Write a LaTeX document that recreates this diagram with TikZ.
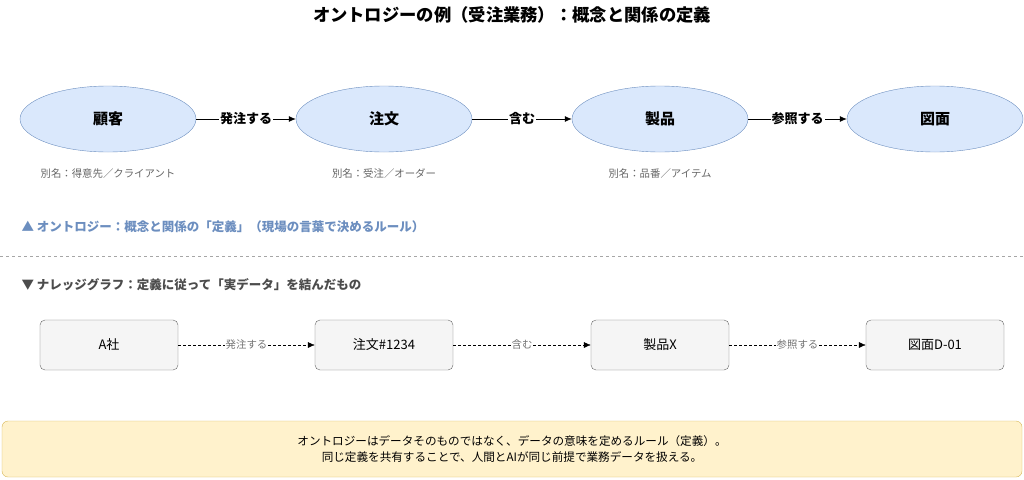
\documentclass[tikz,border=0pt]{standalone}
\usepackage{fontspec}
\setmainfont{Noto Sans CJK JP}
\usetikzlibrary{arrows.meta,shapes.geometric}
\definecolor{ellf}{HTML}{DAE8FC}\definecolor{ells}{HTML}{6C8EBF}
\definecolor{boxf}{HTML}{F5F5F5}\definecolor{boxs}{HTML}{666666}
\definecolor{notef}{HTML}{FFF2CC}\definecolor{notes}{HTML}{D6B656}
\definecolor{headb}{HTML}{6C8EBF}
\begin{document}
\begin{tikzpicture}[x=1pt,y=-1pt,
 concept/.style={ellipse,draw=ells,fill=ellf,minimum width=176pt,minimum height=66pt,inner sep=0pt,font=\fontsize{15}{17}\selectfont\bfseries},
 inst/.style={draw=boxs,fill=boxf,rounded corners=5pt,minimum width=138pt,minimum height=50pt,font=\fontsize{13}{15}\selectfont},
 alias/.style={text=black!60,font=\fontsize{10.4}{12}\selectfont},
 rel/.style={-{Latex[length=7pt,width=6pt]},thick},
 rell/.style={fill=white,inner sep=1pt,font=\fontsize{13}{15}\selectfont\bfseries},
 irel/.style={-{Latex[length=7pt,width=6pt]},densely dashed},
 irell/.style={fill=white,inner sep=1pt,text=black!55,font=\fontsize{10.4}{12}\selectfont},
 head/.style={anchor=west,font=\fontsize{12.5}{14}\selectfont\bfseries}]
\useasboundingbox (0,0) rectangle (1024,479);
\node[font=\fontsize{17.3}{20}\selectfont\bfseries] (title) at (512,15) {オントロジーの例（受注業務）：概念と関係の定義};
\node[concept] (c1) at (108,119) {顧客};
\node[concept] (c2) at (384,119) {注文};
\node[concept] (c3) at (660,119) {製品};
\node[concept] (c4) at (935,119) {図面};
\draw[rel] (c1) -- node[rell]{発注する} (c2);
\draw[rel] (c2) -- node[rell]{含む} (c3);
\draw[rel] (c3) -- node[rell]{参照する} (c4);
\node[alias] (a1) at (108,174) {別名：得意先／クライアント};
\node[alias] (a2) at (384,174) {別名：受注／オーダー};
\node[alias] (a3) at (660,174) {別名：品番／アイテム};
\node[head,text=headb] (h1) at (18,227) {▲ オントロジー：概念と関係の「定義」（現場の言葉で決めるルール）};
\coordinate (d1) at (0,256); \coordinate (d2) at (1024,256);
\draw[black!35,dashed] (d1) -- (d2);
\node[head,text=black!70] (h2) at (18,285) {▼ ナレッジグラフ：定義に従って「実データ」を結んだもの};
\node[inst] (i1) at (109,345) {A社};
\node[inst] (i2) at (384,345) {注文\#1234};
\node[inst] (i3) at (660,345) {製品X};
\node[inst] (i4) at (935,345) {図面D-01};
\draw[irel] (i1) -- node[irell]{発注する} (i2);
\draw[irel] (i2) -- node[irell]{含む} (i3);
\draw[irel] (i3) -- node[irell]{参照する} (i4);
\node[draw=notes,fill=notef,rounded corners=6pt,minimum width=1020pt,minimum height=56pt,align=center,font=\fontsize{11.6}{16}\selectfont] (note) at (512,449) {オントロジーはデータそのものではなく、データの意味を定めるルール（定義）。\\同じ定義を共有することで、人間とAIが同じ前提で業務データを扱える。};
\end{tikzpicture}
\end{document}
